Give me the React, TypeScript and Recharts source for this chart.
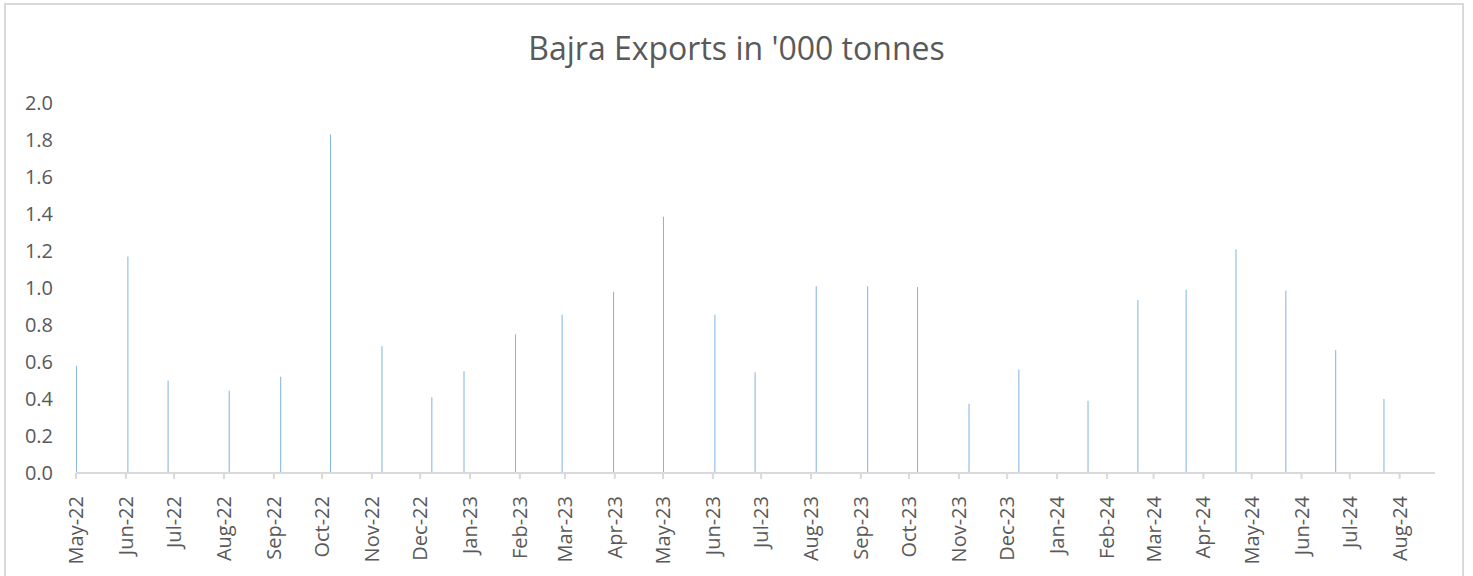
import React from "react";
import { BarChart, Bar, XAxis, YAxis } from "recharts";

// Export dates (points on a date axis)
const exportDates: string[] = [
  "2022-05-01", "2022-06-02", "2022-06-27", "2022-08-04", "2022-09-05",
  "2022-10-06", "2022-11-07", "2022-12-08", "2022-12-28", "2023-01-29",
  "2023-02-27", "2023-03-31", "2023-05-01", "2023-06-02", "2023-06-27",
  "2023-08-04", "2023-09-05", "2023-10-06", "2023-11-07", "2023-12-08",
  "2024-01-20", "2024-02-20", "2024-03-21", "2024-04-21", "2024-05-22",
  "2024-06-22", "2024-07-22",
];
const exportValues: number[] = [
  0.58, 1.17, 0.50, 0.445, 0.52,
  1.83, 0.685, 0.41, 0.55, 0.75,
  0.855, 0.98, 1.385, 0.855, 0.545,
  1.01, 1.01, 1.005, 0.375, 0.56,
  0.39, 0.935, 0.99, 1.21, 0.985,
  0.665, 0.40,
];
const tickMonths: string[] = [
  "2022-05-01", "2022-06-01", "2022-07-01", "2022-08-01", "2022-09-01", "2022-10-01",
  "2022-11-01", "2022-12-01", "2023-01-01", "2023-02-01", "2023-03-01", "2023-04-01",
  "2023-05-01", "2023-06-01", "2023-07-01", "2023-08-01", "2023-09-01", "2023-10-01",
  "2023-11-01", "2023-12-01", "2024-01-01", "2024-02-01", "2024-03-01", "2024-04-01",
  "2024-05-01", "2024-06-01", "2024-07-01", "2024-08-01",
];
const yTicks: number[] = [0, 0.2, 0.4, 0.6, 0.8, 1.0, 1.2, 1.4, 1.6, 1.8, 2.0];
const axisStart = "2022-05-01";
const axisEnd = "2024-08-23";
const monthNames = ["Jan", "Feb", "Mar", "Apr", "May", "Jun", "Jul", "Aug", "Sep", "Oct", "Nov", "Dec"];

const toDay = (s: string) => {
  const [y, m, d] = s.split("-").map(Number);
  return Math.round((Date.UTC(y, m - 1, d) - Date.UTC(2022, 4, 1)) / 86400000);
};
const fmtMonth = (day: number) => {
  const dt = new Date(Date.UTC(2022, 4, 1) + day * 86400000);
  return `${monthNames[dt.getUTCMonth()]}-${String(dt.getUTCFullYear()).slice(2)}`;
};

const data = exportDates.map((d, i) => ({ day: toDay(d), value: exportValues[i] }));
const xTicks = tickMonths.map(toDay);

const FONT = "'Open Sans', 'Noto Sans', sans-serif";
const TEXT = "#595959";

const XTick = (props: any) => {
  const { x, y, payload } = props;
  return (
    <text
      transform={`translate(${x},${y + 15}) rotate(-90)`}
      textAnchor="end"
      dy="0.35em"
      fill={TEXT}
      fontSize={20}
      fontFamily={FONT}
    >
      {fmtMonth(payload.value)}
    </text>
  );
};

export default function App() {
  return (
    <div style={{ position: "absolute", left: 0, top: 0, width: 1473, height: 576, background: "#fff", overflow: "hidden" }}>
      <div
        style={{
          position: "absolute", left: 4, top: 3, width: 1460, height: 600,
          border: "2px solid #d9d9d9", boxSizing: "border-box",
        }}
      />
      <div
        style={{
          position: "absolute", left: 0, top: 26, width: 1473, textAlign: "center",
          fontFamily: FONT, fontSize: 32, color: TEXT, lineHeight: "44px",
        }}
      >
        Bajra Exports in '000 tonnes
      </div>
      <div style={{ position: "absolute", left: 0, top: 0 }}>
        <BarChart
          width={1473}
          height={576}
          data={data}
          margin={{ top: 103, right: 38, bottom: 0, left: 0 }}
        >
          <XAxis
            dataKey="day"
            type="number"
            domain={[toDay(axisStart), toDay(axisEnd)]}
            ticks={xTicks}
            interval={0}
            height={103}
            tick={<XTick />}
            tickSize={6}
            axisLine={{ stroke: "#d9d9d9", strokeWidth: 2 }}
            tickLine={{ stroke: "#d9d9d9", strokeWidth: 2 }}
            allowDataOverflow
          />
          <YAxis
            type="number"
            domain={[0, 2]}
            ticks={yTicks}
            width={76}
            axisLine={false}
            tickLine={false}
            tickSize={0}
            tickMargin={23}
            tickFormatter={(v: number) => v.toFixed(1)}
            tick={{ fill: TEXT, fontSize: 20, fontFamily: FONT }}
            interval={0}
          />
          <Bar dataKey="value" fill="#7fb3e6" barSize={1} isAnimationActive={false} />
        </BarChart>
      </div>
    </div>
  );
}
